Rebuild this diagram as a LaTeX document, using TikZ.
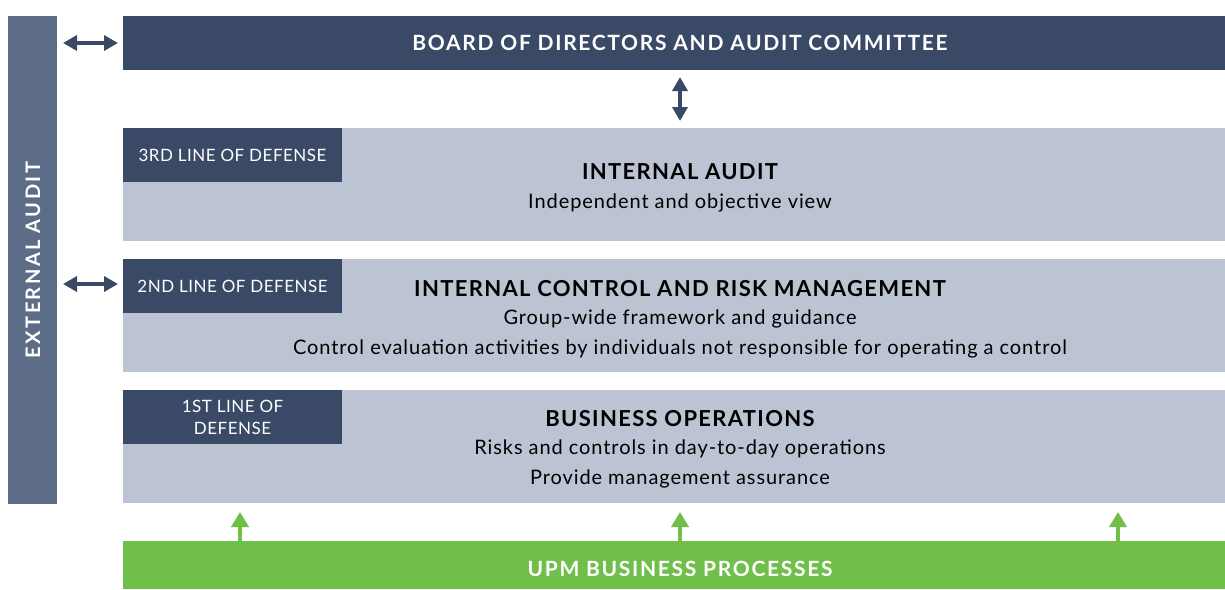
\documentclass[tikz,border=0pt]{standalone}
\usepackage{fontspec}
\setmainfont{Lato}
\usetikzlibrary{arrows.meta}
\definecolor{navy}{HTML}{3A4A66}
\definecolor{slate}{HTML}{5D6C87}
\definecolor{pale}{HTML}{BCC3D3}
\definecolor{upmgreen}{HTML}{70BF4A}
\newfontfamily\trackA[LetterSpace=6]{Lato}
\newfontfamily\trackB[LetterSpace=8]{Lato}
\newfontfamily\trackC[LetterSpace=12]{Lato}
\newfontfamily\trackD[LetterSpace=3]{Lato}
\newfontfamily\trackE[LetterSpace=4.6]{Lato}
\begin{document}
\begin{tikzpicture}[x=1pt,y=-1pt,
  title/.style={font=\trackA\fontsize{22}{24}\selectfont\bfseries},
  hdr/.style={font=\trackB\fontsize{21}{24}\selectfont\bfseries, text=white},
  body/.style={font=\trackE\fontsize{20}{29.5}\selectfont, align=center},
  lbl/.style={font=\trackD\fontsize{17}{22}\selectfont, text=white, align=center},
  darr/.style={{Triangle[width=15pt,length=14pt]}-{Triangle[width=15pt,length=14pt]}, line width=4pt, draw=navy},
  garr/.style={-{Triangle[width=17pt,length=15pt]}, line width=4pt, draw=upmgreen}]
\useasboundingbox (0,0) rectangle (1225,589);
% external audit
\fill[slate] (8,16) rectangle (57,504);
\node[rotate=90, font=\trackC\fontsize{20}{22}\selectfont\bfseries, text=white] (ext) at (33,260) {EXTERNAL AUDIT};
% board
\fill[navy] (123,16) rectangle (1225,70);
\node[hdr] (board) at (680,43) {BOARD OF DIRECTORS AND AUDIT COMMITTEE};
% internal audit
\fill[pale] (123,128) rectangle (1225,241);
\fill[navy] (123,128) rectangle (342,182);
\node[lbl] (l3) at (232.5,155) {3RD LINE OF DEFENSE};
\node[title] (ia) at (680,171.5) {INTERNAL AUDIT};
\node[body] (iab) at (680,202.5) {Independent and objective view};
% internal control
\fill[pale] (123,259) rectangle (1225,372);
\fill[navy] (123,259) rectangle (342,313);
\node[lbl] (l2) at (232.5,286) {2ND LINE OF DEFENSE};
\node[title] (ic) at (680,288.5) {INTERNAL CONTROL AND RISK MANAGEMENT};
\node[body] (icb) at (680,334) {Group-wide framework and guidance\\Control evaluation activities by individuals not responsible for operating a control};
% business operations
\fill[pale] (123,390) rectangle (1225,503);
\fill[navy] (123,390) rectangle (342,444);
\node[lbl] (l1) at (232.5,417) {1ST LINE OF\\DEFENSE};
\node[title] (bo) at (680,418.5) {BUSINESS OPERATIONS};
\node[body] (bob) at (680,464) {Risks and controls in day-to-day operations\\Provide management assurance};
% UPM
\fill[upmgreen] (123,541) rectangle (1225,589);
\node[hdr] (upm) at (680,568.5) {UPM BUSINESS PROCESSES};
% arrows
\coordinate (a1) at (63,43); \coordinate (a2) at (118,43);
\draw[darr] (a1) -- (a2);
\coordinate (b1) at (63,284); \coordinate (b2) at (118,284);
\draw[darr] (b1) -- (b2);
\coordinate (v1) at (680,77); \coordinate (v2) at (680,121);
\draw[darr] (v1) -- (v2);
\foreach \x/\n in {240/g1,680/g2,1118/g3}{
  \coordinate (\n s) at (\x,541); \coordinate (\n e) at (\x,512);
  \draw[garr] (\n s) -- (\n e);
}
\end{tikzpicture}
\end{document}
